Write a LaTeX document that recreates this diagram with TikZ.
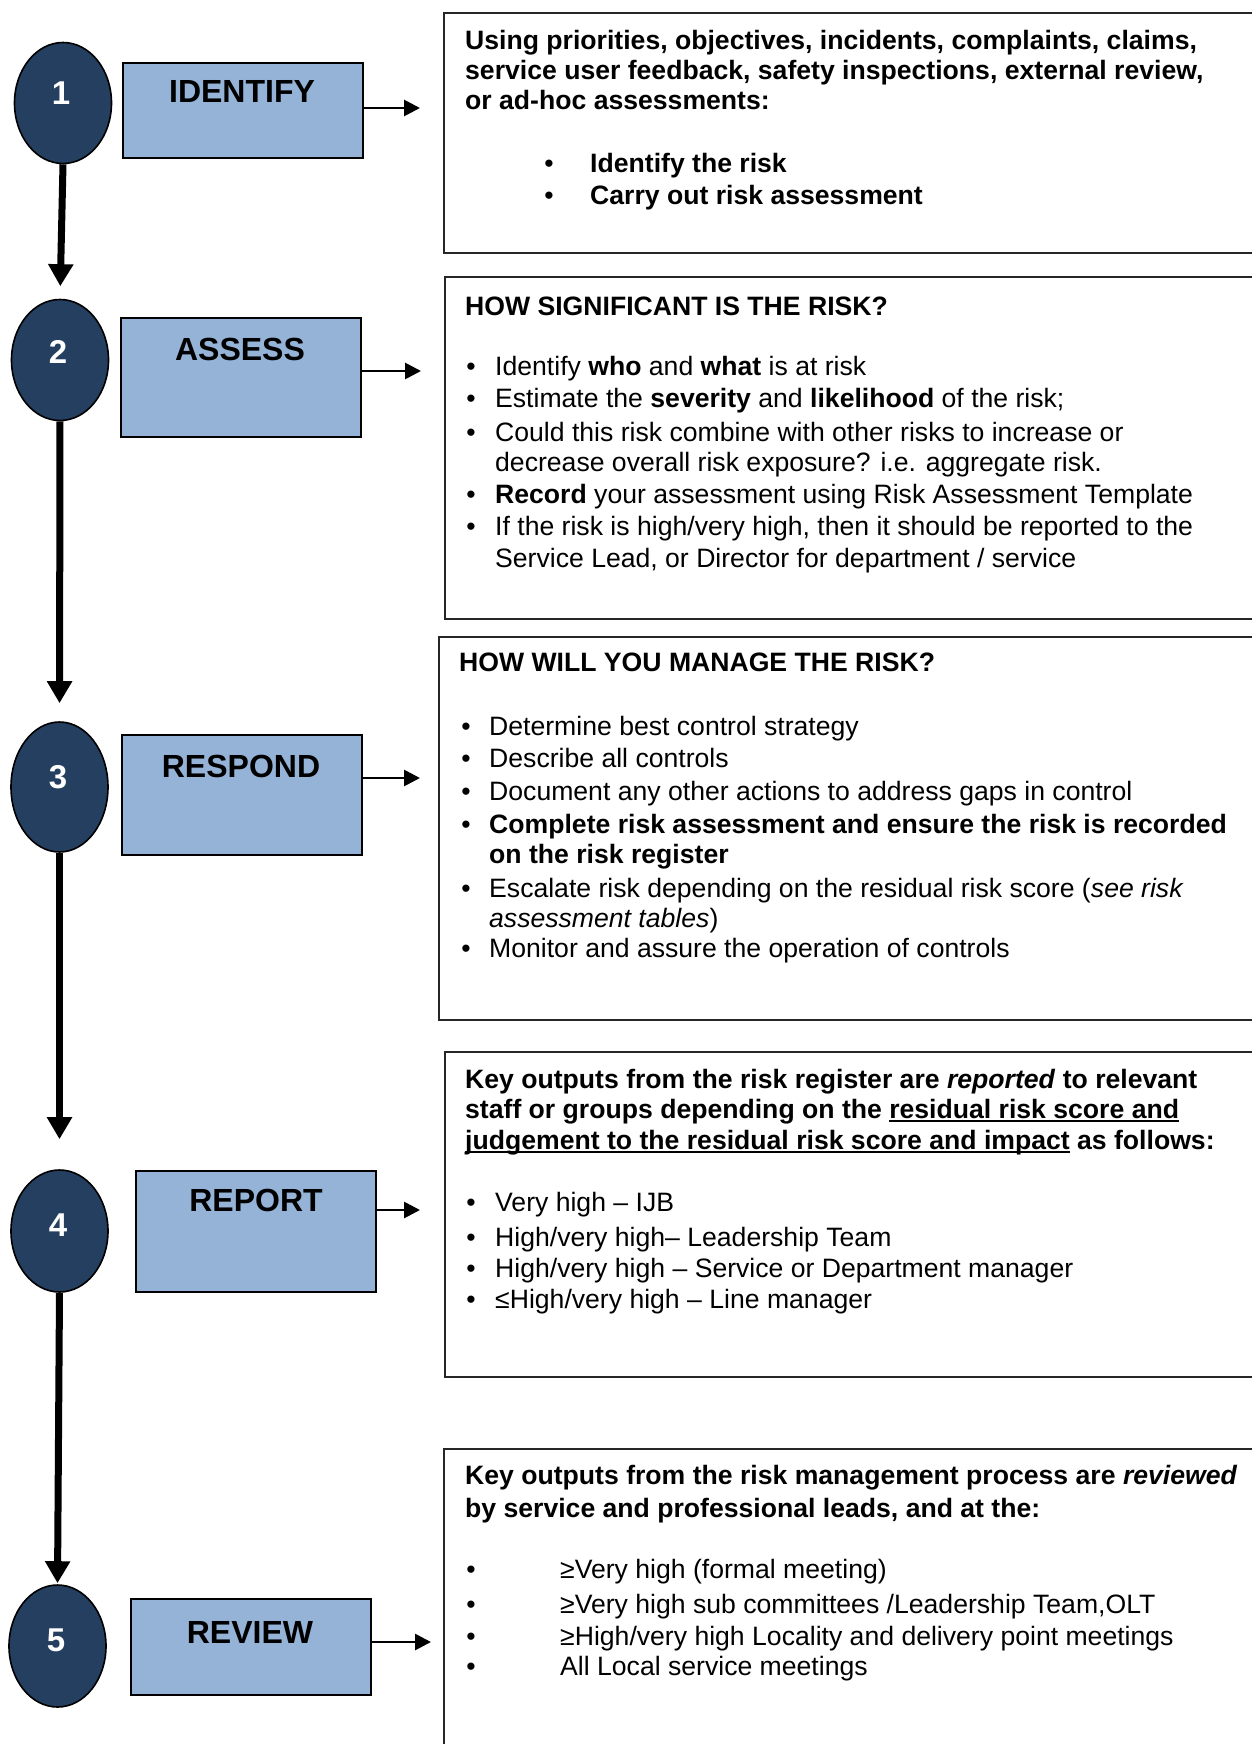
\documentclass[tikz,border=0pt]{standalone}
\usepackage{fontspec}
\setmainfont{Liberation Sans}
\usetikzlibrary{shapes.geometric,arrows.meta,calc}
\definecolor{navy}{RGB}{36,63,96}
\definecolor{steel}{RGB}{149,179,215}
\newcommand\myul[1]{\setbox0\hbox{#1}\rlap{\rule[-3.8pt]{\wd0}{1.8pt}}\box0\relax}
\begin{document}
\begin{tikzpicture}[x=1pt,y=-1pt,
  stepcirc/.style={ellipse,draw=black,line width=1.6pt,fill=navy,inner sep=0pt,minimum width=97pt},
  stepbox/.style={rectangle,draw=black,line width=1.6pt,fill=steel,inner sep=0pt,anchor=north west,minimum width=240pt},
  infobox/.style={rectangle,draw=black!85,line width=1.8pt,inner sep=0pt,anchor=north west},
  num/.style={text=white,font=\fontsize{33}{33}\selectfont\bfseries,inner sep=0pt},
  lab/.style={font=\fontsize{32}{32}\selectfont\bfseries,inner sep=0pt},
  tl/.style={anchor=base west,inner sep=0pt,font=\fontsize{26.6}{30}\selectfont},
  tlb/.style={anchor=base west,inner sep=0pt,font=\fontsize{26.6}{30}\selectfont\bfseries},
  bl/.style={anchor=base,inner sep=0pt,font=\fontsize{26.6}{30}\selectfont},
  down/.style={line width=7pt,-{Triangle[length=22pt,width=24pt]}},
  toinfo/.style={line width=2.8pt,-{Triangle[length=16pt,width=16pt]}}
]
\useasboundingbox (0,0) rectangle (1251,1744);

% info boxes
\node[infobox,minimum width=813pt,minimum height=240pt] (r1) at (443,12) {};
\node[infobox,minimum width=812pt,minimum height=342pt] (r2) at (444,276) {};
\node[infobox,minimum width=818pt,minimum height=383pt] (r3) at (438,636) {};
\node[infobox,minimum width=812pt,minimum height=325pt] (r4) at (444,1051) {};
\node[infobox,minimum width=813pt,minimum height=320pt] (r5) at (443,1448) {};

% step boxes
\node[stepbox,minimum height=95pt] (b1) at (122,62) {};
\node[stepbox,minimum height=119pt] (b2) at (120,317) {};
\node[stepbox,minimum height=120pt] (b3) at (121,734) {};
\node[stepbox,minimum height=121pt] (b4) at (135,1170) {};
\node[stepbox,minimum height=96pt] (b5) at (130,1598) {};
\node[lab] (l1) at (242,91) {IDENTIFY};
\node[lab] (l2) at (240,349) {ASSESS};
\node[lab] (l3) at (241,766) {RESPOND};
\node[lab] (l4) at (256,1200) {REPORT};
\node[lab] (l5) at (250,1632) {REVIEW};

% circles
\node[stepcirc,minimum height=121pt] (c1) at (63,103) {};
\node[stepcirc,minimum height=121pt] (c2) at (60,360) {};
\node[stepcirc,minimum height=130pt] (c3) at (59.5,787) {};
\node[stepcirc,minimum height=122pt] (c4) at (59.5,1231) {};
\node[stepcirc,minimum height=122pt] (c5) at (57.5,1646) {};
\node[num] (n1) at (61,93) {1};
\node[num] (n2) at (58,352) {2};
\node[num] (n3) at (58,777) {3};
\node[num] (n4) at (58,1225) {4};
\node[num] (n5) at (56,1640) {5};

% vertical arrows
\draw[down,shorten >=12.5pt] (c1.south) -- (c2.north);
\draw[down,shorten >=18pt] (c2.south) -- (c3.north);
\draw[down,shorten >=30pt] (c3.south) -- (c4.north);
\draw[down,shorten >=1pt] (c4.south) -- (c5.north);

% horizontal arrows
\coordinate (a1) at (420,108);
\coordinate (a2) at (421,371);
\coordinate (a3) at (420,778);
\coordinate (a4) at (420,1210);
\coordinate (a5) at (431,1642);
\draw[toinfo] (b1.east |- a1) -- (a1);
\draw[toinfo] (b2.east |- a2) -- (a2);
\draw[toinfo] (b3.east |- a3) -- (a3);
\draw[toinfo] (b4.east |- a4) -- (a4);
\draw[toinfo] (b5.east |- a5) -- (a5);

% box 1
\node[tlb] (t11) at (465,50) {Using priorities, objectives, incidents, complaints, claims,};
\node[tlb] (t12) at (465,80) {service user feedback, safety inspections, external review,};
\node[tlb] (t13) at (465,110) {or ad-hoc assessments:};
\node[bl] (u11) at (549,173) {•};
\node[bl] (u12) at (549,205) {•};
\node[tlb] (t14) at (590,173) {Identify the risk};
\node[tlb] (t15) at (590,205) {Carry out risk assessment};

% box 2
\node[tlb] (t20) at (465,315) {HOW SIGNIFICANT IS THE RISK?};
\node[bl] (u21) at (471,375) {•};
\node[bl] (u22) at (471,407) {•};
\node[bl] (u23) at (471,441) {•};
\node[bl] (u24) at (471,503) {•};
\node[bl] (u25) at (471,535) {•};
\node[tl] (t21) at (495,375) {Identify \textbf{who} and \textbf{what} is at risk};
\node[tl] (t22) at (495,407) {Estimate the \textbf{severity} and \textbf{likelihood} of the risk;};
\node[tl] (t23) at (495,441) {Could this risk combine with other risks to increase or};
\node[tl] (t24) at (495,471) {decrease overall risk exposure? i.e. aggregate risk.};
\node[tl] (t25) at (495,503) {\textbf{Record} your assessment using Risk Assessment Template};
\node[tl] (t26) at (495,535) {If the risk is high/very high, then it should be reported to the};
\node[tl] (t27) at (495,567) {Service Lead, or Director for department / service};

% box 3
\node[tlb] (t30) at (459,671) {HOW WILL YOU MANAGE THE RISK?};
\node[bl] (u31) at (466,735) {•};
\node[bl] (u32) at (466,767) {•};
\node[bl] (u33) at (466,800) {•};
\node[bl] (u34) at (466,833) {•};
\node[bl] (u35) at (466,897) {•};
\node[bl] (u36) at (466,957) {•};
\node[tl] (t31) at (489,735) {Determine best control strategy};
\node[tl] (t32) at (489,767) {Describe all controls};
\node[tl] (t33) at (489,800) {Document any other actions to address gaps in control};
\node[tlb] (t34) at (489,833) {Complete risk assessment and ensure the risk is recorded};
\node[tlb] (t35) at (489,863) {on the risk register};
\node[tl] (t36) at (489,897) {Escalate risk depending on the residual risk score (\textit{see risk}};
\node[tl] (t37) at (489,927) {\textit{assessment tables})};
\node[tl] (t38) at (489,957) {Monitor and assure the operation of controls};

% box 4
\node[tlb] (t40) at (465,1088) {Key outputs from the risk register are \textit{reported} to relevant};
\node[tlb] (t41) at (465,1118) {staff or groups depending on the \myul{residual risk score and}};
\node[tlb] (t42) at (465,1149) {\myul{judgement to the residual risk score and impact} as follows:};
\node[bl] (u41) at (471,1211) {•};
\node[bl] (u42) at (471,1246) {•};
\node[bl] (u43) at (471,1277) {•};
\node[bl] (u44) at (471,1308) {•};
\node[tl] (t43) at (495,1211) {Very high – IJB};
\node[tl] (t44) at (495,1246) {High/very high– Leadership Team};
\node[tl] (t45) at (495,1277) {High/very high – Service or Department manager};
\node[tl] (t46) at (495,1308) {≤High/very high – Line manager};

% box 5
\node[tlb] (t50) at (465,1484) {Key outputs from the risk management process are \textit{reviewed}};
\node[tlb] (t51) at (465,1517) {by service and professional leads, and at the:};
\node[bl] (u51) at (471,1578) {•};
\node[bl] (u52) at (471,1613) {•};
\node[bl] (u53) at (471,1645) {•};
\node[bl] (u54) at (471,1675) {•};
\node[tl] (t52) at (560,1578) {≥Very high (formal meeting)};
\node[tl] (t53) at (560,1613) {≥Very high sub committees /Leadership Team,OLT};
\node[tl] (t54) at (560,1645) {≥High/very high Locality and delivery point meetings};
\node[tl] (t55) at (560,1675) {All Local service meetings};
\end{tikzpicture}
\end{document}
